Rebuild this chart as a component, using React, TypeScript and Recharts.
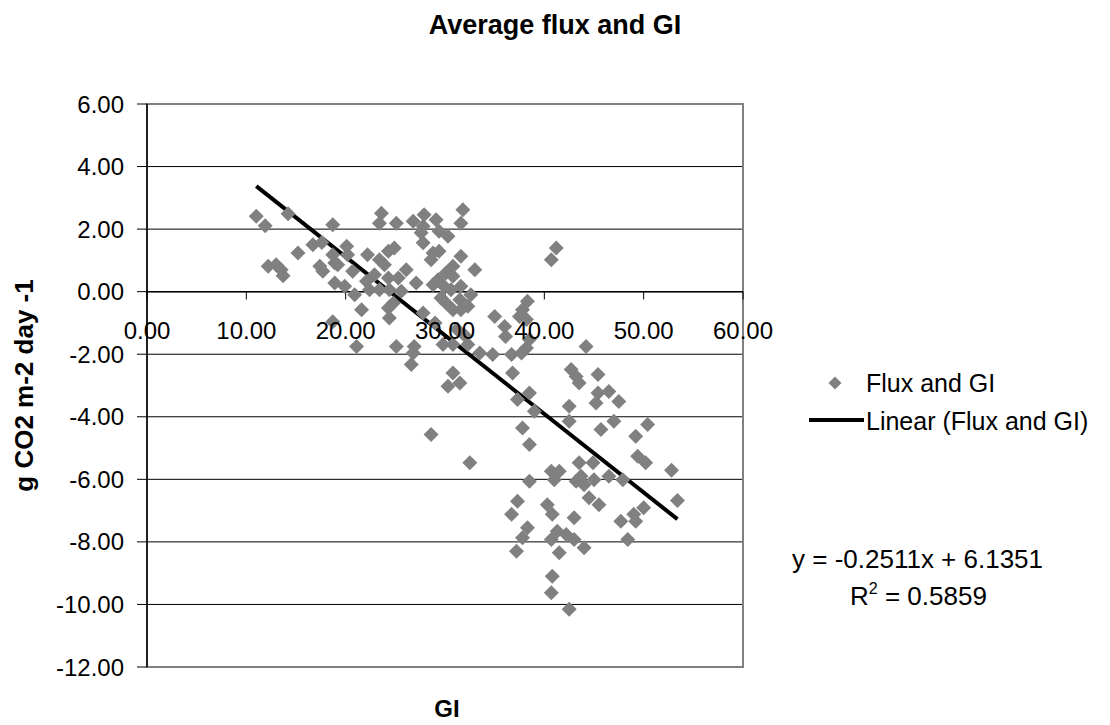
import {
  CartesianGrid,
  Legend,
  ReferenceArea,
  ReferenceLine,
  Scatter,
  ScatterChart,
  XAxis,
  YAxis,
} from "recharts";

// GI values of each point (x)
const giValues = [
  11.0, 11.9, 14.2, 18.7, 15.2, 16.7, 17.6, 12.2, 13.0, 13.5, 13.7, 17.4, 17.7, 18.7, 18.9, 18.9, 18.7,
  20.1, 20.2, 19.2, 20.7, 19.9, 20.9, 21.6, 23.6, 23.4, 25.1, 22.2, 23.4, 24.3, 24.9, 23.9, 22.9, 24.3,
  25.3, 26.1, 22.1, 22.4, 23.4, 24.4, 25.6, 24.8, 24.3, 24.4, 27.1, 26.8, 27.9, 27.8, 27.6, 29.1, 29.4,
  30.3, 31.8, 31.6, 27.8, 28.8, 29.4, 28.6, 31.6, 33.0, 30.8, 30.1, 30.8, 29.3, 28.8, 29.9, 30.6, 31.6,
  32.6, 29.6, 30.1, 31.5, 32.3, 30.8, 31.6, 27.8, 21.1, 25.1, 26.9, 26.8, 26.6, 29.8, 30.8, 30.8, 31.5,
  30.3, 28.6, 32.5, 32.3, 29.0, 31.2, 32.0, 41.2, 40.7, 38.3, 35.0, 37.8, 37.5, 38.2, 36.0, 36.1, 38.5,
  38.2, 44.2, 33.5, 34.8, 36.7, 37.7, 36.8, 42.7, 43.2, 43.5, 45.4, 45.4, 46.5, 47.5, 38.5, 37.3, 42.5,
  45.2, 39.0, 42.5, 47.0, 45.7, 37.8, 38.5, 43.5, 44.9, 40.7, 41.5, 41.0, 43.7, 43.2, 44.0, 45.0, 46.5,
  47.9, 38.5, 44.5, 45.5, 37.3, 36.7, 40.3, 40.8, 43.0, 47.7, 38.3, 37.8, 37.2, 41.3, 40.7, 42.2, 43.0,
  44.0, 41.5, 48.4, 40.8, 40.7, 42.5, 50.4, 49.2, 49.4, 50.2, 52.8, 53.4, 50.0, 49.0, 49.2,
];

// average flux of each point (y)
const fluxValues = [
  2.41, 2.11, 2.49, 2.14, 1.24, 1.5, 1.57, 0.81, 0.86, 0.7, 0.51, 0.81, 0.65, 1.18, 0.92, 0.28, -0.96,
  1.45, 1.18, 0.86, 0.65, 0.17, -0.1, -0.58, 2.51, 2.19, 2.19, 1.18, 1.02, 1.29, 1.4, 0.86, 0.54, 0.44,
  0.44, 0.7, 0.33, 0.06, 0.06, 0.06, 0.01, -0.36, -0.52, -0.84, 0.28, 2.25, 2.46, 2.09, 1.88, 2.3, 1.93,
  1.77, 2.62, 2.19, 1.56, 1.24, 1.29, 1.02, 1.13, 0.7, 0.81, 0.6, 0.49, 0.38, 0.22, 0.17, 0.06, 0.17,
  -0.1, -0.2, -0.36, -0.26, -0.47, -0.58, -0.58, -0.68, -1.75, -1.75, -1.75, -1.96, -2.33, -1.69, -1.69,
  -2.6, -2.92, -3.02, -4.57, -5.47, -1.69, -1.0, -1.2, -1.4, 1.4, 1.02, -0.31, -0.79, -0.58, -0.79,
  -0.89, -1.11, -1.43, -1.53, -1.8, -1.75, -1.96, -2.01, -2.01, -1.96, -2.6, -2.49, -2.71, -2.92, -2.65,
  -3.24, -3.19, -3.51, -3.24, -3.45, -3.66, -3.56, -3.82, -4.14, -4.14, -4.41, -4.36, -4.89, -5.47,
  -5.47, -5.74, -5.74, -6.01, -5.9, -6.06, -6.17, -6.01, -5.9, -6.01, -6.06, -6.59, -6.81, -6.7, -7.12,
  -6.81, -7.12, -7.23, -7.34, -7.55, -7.87, -8.3, -7.66, -7.92, -7.76, -7.92, -8.19, -8.35, -7.92,
  -9.1, -9.63, -10.15, -4.25, -4.62, -5.26, -5.47, -5.71, -6.68, -6.91, -7.12, -7.34,
];

const xTicks = [0, 10, 20, 30, 40, 50, 60];
const yTicks = [-12, -10, -8, -6, -4, -2, 0, 2, 4, 6];

// linear trendline from the chart's equation, drawn over the GI range
const slope = -0.2511;
const intercept = 6.1351;
const trendRange = [11.0, 53.4];

const data = giValues.map((gi, i) => ({ gi, flux: fluxValues[i] }));

const Diamond = (props: any) => {
  const { cx, cy } = props;
  const r = 7.5;
  return (
    <polygon
      points={`${cx},${cy - r} ${cx + r},${cy} ${cx},${cy + r} ${cx - r},${cy}`}
      fill="#808080"
    />
  );
};

const LegendBox = () => (
  <svg width={330} height={80} style={{ display: "block" }}>
    <polygon points="59,16.5 65.5,23 59,29.5 52.5,23" fill="#808080" />
    <text x={90} y={32} fontSize={25} fill="#000">
      Flux and GI
    </text>
    <line x1={33} y1={60} x2={88} y2={60} stroke="#000" strokeWidth={4} />
    <text x={90} y={70} fontSize={25} fill="#000">
      Linear (Flux and GI)
    </text>
  </svg>
);

export default function App() {
  return (
    <div
      style={{
        position: "relative",
        width: 1110,
        height: 725,
        margin: -8,
        background: "#fff",
        fontFamily: "'Liberation Sans', Arial, sans-serif",
      }}
    >
      <ScatterChart
        width={1110}
        height={725}
        margin={{ top: 104, right: 367, bottom: 58, left: 0 }}
      >
        <CartesianGrid vertical={false} stroke="#000" strokeWidth={1} />
        <ReferenceArea
          x1={0}
          x2={60}
          y1={-12}
          y2={6}
          fill="none"
          stroke="#808080"
          strokeWidth={2}
        />
        <XAxis type="number" dataKey="gi" domain={[0, 60]} ticks={xTicks} hide />
        <YAxis
          type="number"
          dataKey="flux"
          domain={[-12, 6]}
          ticks={yTicks}
          width={147}
          interval={0}
          tickFormatter={(v) => v.toFixed(2)}
          tick={{ fontSize: 24, fill: "#000" }}
          tickSize={10}
          tickMargin={13}
          axisLine={{ stroke: "#000", strokeWidth: 1.5 }}
          tickLine={{ stroke: "#000" }}
          label={{
            value: "g CO2 m-2 day -1",
            angle: -90,
            position: "insideLeft",
            offset: 24,
            fill: "#000",
            style: { textAnchor: "middle", fontWeight: "bold", fontSize: 26 },
          }}
        />
        <ReferenceLine y={0} stroke="#000" strokeWidth={1.5} />
        {xTicks.map((t) => (
          <ReferenceLine
            key={t}
            segment={[
              { x: t, y: 0 },
              { x: t, y: -0.25 },
            ]}
            stroke="#000"
            label={{
              value: t.toFixed(2),
              position: "bottom",
              offset: 22,
              fontSize: 24,
              fill: "#000",
            }}
          />
        ))}
        <Scatter
          name="Flux and GI"
          data={data}
          shape={<Diamond />}
          isAnimationActive={false}
        />
        <ReferenceLine
          segment={[
            { x: trendRange[0], y: slope * trendRange[0] + intercept },
            { x: trendRange[1], y: slope * trendRange[1] + intercept },
          ]}
          stroke="#000"
          strokeWidth={4}
        />
        <Legend
          layout="horizontal"
          verticalAlign="middle"
          align="center"
          content={<LegendBox />}
          wrapperStyle={{ left: 776, top: 360, width: 330, height: 80 }}
        />
      </ScatterChart>
      <svg
        width={1110}
        height={725}
        style={{ position: "absolute", left: 0, top: 0, pointerEvents: "none" }}
      >
        <text x={555} y={34} textAnchor="middle" fontSize={27} fontWeight="bold" fill="#000">
          Average flux and GI
        </text>
        <text x={447} y={717} textAnchor="middle" fontSize={24} fontWeight="bold" fill="#000">
          GI
        </text>
        <text x={792} y={568} fontSize={26} fill="#000">
          y = -0.2511x + 6.1351
        </text>
        <text x={850} y={605} fontSize={26} fill="#000">
          R
          <tspan dy={-11} fontSize={16}>
            2
          </tspan>
          <tspan dy={11}> = 0.5859</tspan>
        </text>
      </svg>
    </div>
  );
}
